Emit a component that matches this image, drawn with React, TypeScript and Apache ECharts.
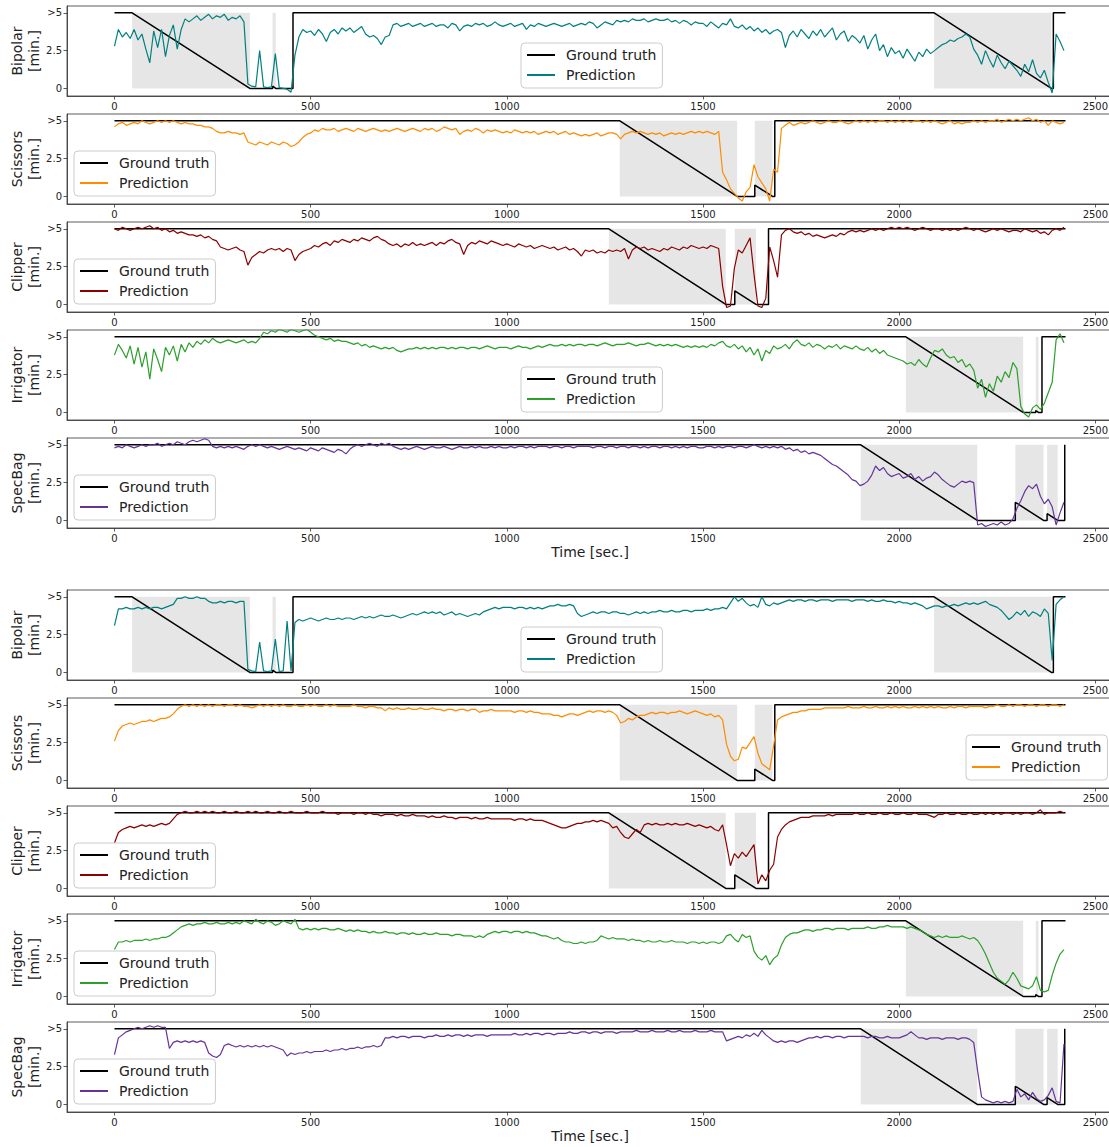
import { useEffect, useRef } from 'react';
import * as echarts from 'echarts';

const FONT = 'DejaVu Sans';
const TIME_STEP = 10;
const X_TICKS = [0, 500, 1000, 1500, 2000, 2500];
const Y_TICKS = [0, 2.5, 5];
const Y_TICK_LABELS = ['0', '2.5', '>5'];
const INSTRUMENTS = ['Bipolar', 'Scissors', 'Clipper', 'Irrigator', 'SpecBag'];
const COLORS = ['#008080', '#ff8c00', '#8b0000', '#2ca02c', '#663399'];

// Ground truth (time [sec.], remaining [min.])
const GT_BIPOLAR = [[0, 5], [45, 5], [345, 0], [403, 0], [403, 0.15], [411, 0], [455, 0], [455, 5], [2089, 5], [2388, 0], [2393, 0], [2393, 5], [2424, 5]];
const GT_SCISSORS = [[0, 5], [1288, 5], [1587, 0], [1632, 0], [1632, 0.75], [1677, 0], [1683, 0], [1683, 5], [2424, 5]];
const GT_CLIPPER = [[0, 5], [1260, 5], [1558, 0], [1581, 0], [1581, 0.9], [1635, 0], [1667, 0], [1667, 5], [2424, 5]];
const GT_IRRIGATOR = [[0, 5], [2017, 5], [2316, 0], [2348, 0], [2348, 0.12], [2355, 0], [2364, 0], [2364, 5], [2424, 5]];
const GT_SPECBAG = [[0, 5], [1902, 5], [2199, 0], [2296, 0], [2296, 1.2], [2368, 0], [2377, 0], [2377, 0.45], [2404, 0], [2422, 0], [2422, 5]];

// Shaded intervals (sec.)
const SHADE_BIPOLAR = [[45, 345], [403, 411], [2089, 2388]];
const SHADE_SCISSORS = [[1288, 1587], [1632, 1677]];
const SHADE_CLIPPER = [[1260, 1558], [1581, 1635]];
const SHADE_IRRIGATOR = [[2017, 2316], [2348, 2355]];
const SHADE_SPECBAG = [[1902, 2199], [2296, 2368], [2377, 2404]];

// Predictions, upper figure (one value every 10 s)
const PRED_A_BIPOLAR = [
  2.8, 3.9, 3.4, 3.7, 3.3, 3.9, 3.2, 3.6, 2.6, 1.7,
  3.8, 2.7, 3.9, 2.1, 3.5, 4.2, 2.6, 3.9, 4.6, 4.4,
  4.6, 4.8, 4.5, 4.7, 4.9, 4.6, 4.8, 4.7, 4.9, 4.5,
  4.7, 4.6, 4.8, 4.4, 0.3, 0.15, 0.1, 2.5, 0.1, 0.05,
  0.1, 2.3, 0.05, 0.0, -0.05, -0.25, 2.2, 3.4, 3.9, 3.7,
  3.8, 3.5, 3.9, 3.6, 3.1, 3.7, 3.9, 3.6, 4.0, 3.8,
  4.0, 3.7, 3.9, 4.1, 3.6, 3.4, 3.5, 3.3, 2.9, 3.4,
  3.5, 4.2, 4.3, 4.1, 4.2, 4.3, 4.1, 4.2, 4.3, 4.1,
  4.2, 4.3, 4.1, 4.2, 4.2, 4.0, 4.3, 4.2, 3.8, 4.1,
  4.2, 4.1, 4.3, 4.2, 4.3, 4.1, 4.2, 4.4, 4.2, 4.1,
  4.2, 4.3, 4.1, 4.2, 4.3, 3.9, 4.2, 4.1, 4.3, 4.2,
  4.1, 4.2, 4.3, 4.2, 4.1, 4.2, 4.3, 4.1, 4.2, 4.3,
  4.2, 4.4, 4.3, 4.0, 4.2, 4.4, 4.3, 4.2, 4.5, 4.4,
  4.5, 4.4, 4.6, 4.5, 4.5, 4.6, 4.4, 4.5, 4.6, 4.5,
  4.5, 4.6, 4.4, 4.5, 4.3, 4.5, 4.4, 4.2, 4.4, 4.3,
  4.3, 4.1, 4.4, 4.2, 4.0, 4.3, 4.2, 4.6, 4.1, 4.0,
  4.2, 3.9, 4.1, 3.8, 4.0, 3.7, 3.9, 3.6, 3.8, 3.9,
  3.7, 2.7, 3.5, 3.8, 3.4, 3.9, 3.6, 3.3, 3.8, 3.5,
  3.9, 3.4, 3.7, 4.0, 3.2, 3.6, 3.8, 3.1, 3.5, 3.3,
  3.0, 3.5, 2.6, 3.2, 3.6, 2.5, 2.9, 2.1, 2.7, 2.3,
  2.5, 2.0, 2.6, 2.2, 1.8, 2.4, 2.1, 2.6, 2.3, 2.5,
  2.7, 2.9, 3.0, 3.2, 3.1, 3.3, 3.4, 3.6, 3.4, 2.6,
  2.2, 1.6, 2.5, 1.9, 1.4, 2.2, 1.7, 1.3, 1.8, 1.5,
  1.2, 0.8, 1.6, 1.1, 1.9, 1.0, 0.7, 1.2, 0.4, -0.3,
  3.6, 3.1, 2.5,
];
const PRED_A_SCISSORS = [
  4.6, 4.8, 4.9, 4.7, 4.8, 4.9, 4.8, 5.0, 4.9, 4.8,
  4.9, 5.0, 4.9, 5.0, 4.9, 5.0, 4.9, 4.8, 4.9, 4.8,
  4.8, 4.7, 4.7, 4.6, 4.6, 4.5, 4.3, 4.2, 4.2, 4.3,
  4.2, 4.2, 4.1, 4.2, 3.6, 3.5, 3.4, 3.6, 3.5, 3.4,
  3.6, 3.5, 3.4, 3.6, 3.5, 3.3, 3.4, 3.6, 3.9, 4.1,
  4.2, 4.4, 4.3, 4.5, 4.4, 4.4, 4.5, 4.3, 4.4, 4.5,
  4.4, 4.3, 4.5, 4.4, 4.3, 4.4, 4.5, 4.4, 4.3, 4.4,
  4.3, 4.4, 4.5, 4.4, 4.3, 4.4, 4.5, 4.4, 4.3, 4.5,
  4.4, 4.5, 4.3, 4.4, 4.6, 4.5, 4.4, 4.5, 4.1, 4.3,
  4.4, 4.3, 4.5, 4.4, 4.2, 4.4, 4.3, 4.4, 4.3, 4.2,
  4.3, 4.2, 4.4, 4.3, 4.2, 4.3, 4.2, 4.3, 4.1, 4.2,
  4.3, 4.2, 4.3, 4.1, 4.2, 4.3, 4.1, 4.2, 4.1, 4.0,
  4.1, 4.0, 4.1, 4.2, 4.0, 4.1, 4.2, 4.2, 4.1, 3.8,
  4.1, 4.2, 4.3, 4.2, 4.3, 4.2, 4.1, 4.2, 4.1, 4.2,
  4.0, 4.1, 4.2, 4.1, 4.2, 4.1, 4.2, 4.3, 4.2, 4.3,
  4.2, 4.3, 4.2, 4.1, 4.3, 1.6, 1.1, 0.5, 0.2, -0.1,
  -0.3, 0.3, 0.6, 2.1, 1.3, 0.9, 0.5, -0.3, 1.8, 1.6,
  4.5, 4.7, 4.9, 4.7, 4.8, 4.9, 4.8, 4.9, 5.0, 4.9,
  4.8, 4.9, 5.0, 4.9, 4.9, 5.0, 4.9, 4.8, 4.9, 5.0,
  4.9, 5.0, 4.9, 5.0, 4.9, 5.0, 5.0, 4.9, 5.0, 4.9,
  5.0, 4.9, 5.0, 4.9, 5.0, 5.0, 4.9, 5.0, 4.9, 5.0,
  4.9, 4.8, 4.9, 5.0, 4.8, 4.9, 4.8, 4.9, 4.9, 5.0,
  4.9, 5.0, 4.9, 5.0, 5.0, 5.1, 4.9, 5.0, 5.1, 5.0,
  5.1, 5.0, 5.1, 5.2, 5.0, 5.1, 4.9, 5.0, 4.7, 5.0,
  4.9, 4.8, 4.9,
];
const PRED_A_CLIPPER = [
  5.0, 4.9, 5.1, 5.0, 4.9, 5.0, 5.1, 5.0, 5.1, 5.2,
  5.0, 5.1, 4.9, 5.0, 4.8, 4.9, 4.7, 4.8, 4.7, 4.6,
  4.6, 4.5, 4.6, 4.4, 4.5, 4.3, 4.2, 3.8, 3.7, 3.6,
  3.7, 3.8, 3.6, 3.5, 2.6, 3.1, 3.3, 3.5, 3.4, 3.6,
  3.7, 3.6, 3.7, 3.5, 3.7, 3.6, 2.9, 3.3, 3.5, 3.6,
  3.7, 3.9, 3.8, 4.0, 4.1, 3.9, 4.2, 4.1, 4.3, 4.2,
  4.1, 4.3, 4.2, 4.4, 4.3, 4.2, 4.4, 4.5, 4.3, 4.2,
  4.0, 3.9, 4.0, 3.8, 4.0, 3.9, 4.1, 3.9, 4.0, 3.9,
  4.0, 4.1, 3.9, 4.1, 4.0, 4.2, 4.3, 4.1, 4.0, 3.3,
  3.9, 4.1, 4.0, 4.2, 4.1, 4.0, 4.2, 4.1, 4.0, 3.9,
  4.0, 3.9, 3.8, 4.0, 3.9, 3.8, 3.9, 3.7, 3.8, 3.9,
  3.8, 3.7, 3.8, 3.6, 3.7, 3.8, 3.6, 3.7, 3.5, 3.2,
  3.6, 3.5, 3.6, 3.4, 3.5, 3.4, 3.6, 3.5, 3.6, 3.5,
  3.7, 3.0, 3.6, 3.8, 3.7, 3.8, 3.6, 3.7, 3.6, 3.5,
  3.7, 3.6, 3.8, 3.7, 3.6, 3.8, 3.7, 3.9, 3.8, 3.7,
  3.8, 3.7, 3.9, 3.8, 3.7, 1.2, -0.2, -0.1, 2.4, 3.6,
  3.4, 3.9, 4.4, 2.0, -0.1, -0.2, 0.4, 3.8, 2.9, 1.8,
  4.6, 4.9, 5.0, 4.8, 4.7, 4.8, 4.6, 4.7, 4.5, 4.6,
  4.5, 4.4, 4.5, 4.6, 4.5, 4.7, 4.6, 4.8, 4.9, 4.8,
  4.9, 4.8, 4.9, 5.0, 4.9, 5.0, 4.9, 5.0, 5.1, 5.0,
  5.1, 5.0, 5.1, 5.0, 4.9, 5.0, 5.1, 5.0, 4.9, 5.0,
  5.0, 4.9, 5.0, 4.9, 5.0, 4.9, 5.0, 5.1, 5.0, 4.9,
  5.0, 4.9, 4.8, 4.9, 5.0, 4.9, 5.0, 4.9, 4.8, 4.9,
  4.9, 4.8, 5.0, 4.9, 4.8, 4.9, 4.7, 4.8, 4.6, 4.9,
  5.0, 4.9, 5.1,
];
const PRED_A_IRRIGATOR = [
  3.8, 4.5, 4.1, 3.6, 4.4, 3.2, 4.3, 3.0, 4.0, 2.2,
  4.2, 3.5, 2.7, 4.3, 3.8, 4.4, 3.4, 4.5, 4.0, 4.6,
  4.3, 4.7, 4.5, 4.8, 4.6, 4.9, 4.7, 4.6, 4.7, 4.8,
  4.7, 4.6, 4.7, 4.8, 4.6, 4.7, 4.6, 4.9, 5.3, 5.2,
  5.4, 5.3, 5.5, 5.4, 5.3, 5.5, 5.4, 5.3, 5.4, 5.5,
  5.3, 5.1, 5.0, 4.9, 4.8, 4.9, 4.7, 4.8, 4.7, 4.7,
  4.6, 4.5, 4.6, 4.4, 4.5, 4.3, 4.4, 4.3, 4.2, 4.3,
  4.2, 4.3, 4.1, 4.0, 4.1, 4.2, 4.2, 4.3, 4.2, 4.3,
  4.2, 4.3, 4.2, 4.3, 4.3, 4.2, 4.3, 4.2, 4.3, 4.3,
  4.2, 4.3, 4.3, 4.2, 4.3, 4.4, 4.3, 4.2, 4.3, 4.3,
  4.3, 4.2, 4.3, 4.4, 4.3, 4.3, 4.2, 4.3, 4.4, 4.3,
  4.4, 4.5, 4.4, 4.4, 4.5, 4.4, 4.5, 4.4, 4.5, 4.5,
  4.4, 4.5, 4.5, 4.4, 4.5, 4.6, 4.5, 4.4, 4.5, 4.5,
  4.5, 4.6, 4.5, 4.4, 4.5, 4.5, 4.6, 4.5, 4.4, 4.5,
  4.4, 4.5, 4.4, 4.5, 4.4, 4.3, 4.4, 4.3, 4.4, 4.3,
  4.4, 4.3, 4.5, 4.4, 4.6, 4.7, 4.4, 4.3, 4.5, 4.2,
  4.4, 4.0, 4.3, 3.8, 4.2, 3.4, 4.1, 3.9, 4.4, 4.2,
  4.3, 4.5, 4.2, 4.6, 4.8, 4.5, 4.4, 4.6, 4.3, 4.5,
  4.4, 4.2, 4.4, 4.3, 4.5, 4.2, 4.4, 4.3, 4.2, 4.4,
  4.2, 4.1, 4.3, 4.0, 4.2, 3.9, 4.1, 3.8, 3.7, 3.6,
  3.5, 3.4, 3.2, 3.3, 3.1, 3.5, 3.2, 3.0, 3.6, 4.1,
  4.0, 4.2, 3.8, 3.6, 3.7, 3.3, 3.5, 3.0, 3.2, 2.8,
  1.6, 2.2, 1.0, 1.9, 1.4, 2.4, 2.0, 2.7, 2.3, 3.3,
  2.9, 0.4, -0.1, -0.3, 0.3, 0.5, 0.2, 0.6, 1.3, 2.0,
  4.8, 5.2, 4.6,
];
const PRED_A_SPECBAG = [
  4.8, 4.9, 4.8, 5.0, 4.9, 4.8, 4.9, 5.0, 4.9, 5.0,
  5.0, 5.1, 4.9, 5.0, 5.1, 5.0, 5.2, 5.1, 5.0, 5.2,
  5.3, 5.2, 5.3, 5.4, 5.3, 4.9, 4.8, 4.9, 4.8, 4.9,
  4.8, 4.9, 4.8, 4.7, 4.9, 5.0, 4.9, 5.0, 4.9, 4.8,
  4.9, 4.8, 4.7, 4.8, 4.9, 4.8, 4.7, 4.8, 4.7, 4.6,
  4.8, 4.7, 4.6, 4.8, 4.7, 4.6, 4.5, 4.7, 4.6, 4.4,
  4.7, 4.9, 5.0, 4.9, 5.0, 5.1, 5.0, 4.9, 5.1, 5.0,
  5.1, 4.9, 4.8, 4.7, 4.8, 4.7, 4.8, 4.9, 4.8, 4.7,
  4.8, 4.9, 4.8, 4.8, 4.9, 4.8, 4.7, 4.8, 4.9, 4.8,
  4.8, 4.9, 4.8, 4.9, 4.8, 4.8, 4.9, 4.8, 4.9, 4.8,
  4.8, 4.9, 4.8, 4.9, 4.9, 4.8, 4.9, 4.8, 4.9, 4.9,
  4.9, 4.8, 4.9, 4.9, 4.8, 4.9, 4.9, 4.8, 4.9, 4.9,
  4.9, 4.9, 4.8, 4.9, 4.9, 4.8, 4.9, 4.9, 4.8, 4.9,
  4.9, 4.8, 4.9, 4.9, 4.8, 4.9, 4.8, 4.9, 4.9, 4.8,
  4.9, 4.9, 4.8, 4.9, 4.8, 4.9, 4.8, 4.9, 4.9, 4.8,
  4.8, 4.9, 4.9, 4.8, 4.9, 4.8, 4.9, 4.9, 4.8, 4.9,
  4.9, 4.8, 4.9, 5.0, 4.9, 4.8, 4.9, 4.8, 4.9, 4.8,
  4.9, 4.7, 4.8, 4.6, 4.7, 4.5, 4.6, 4.4, 4.5, 4.4,
  4.3, 4.1, 3.9, 3.7, 3.6, 3.4, 3.2, 3.0, 2.7, 2.6,
  2.3, 2.4, 2.6, 3.0, 3.6, 3.3, 3.5, 3.1, 2.9, 3.0,
  3.1, 2.8, 2.9, 3.1, 2.7, 2.9, 2.6, 2.8, 2.9, 3.2,
  3.0, 2.7, 2.5, 2.3, 2.2, 2.4, 2.6, 2.5, 2.6, 2.5,
  -0.3, -0.2, -0.4, -0.3, -0.2, -0.3, -0.1, -0.3, -0.2, 0.1,
  0.8, 1.3, 1.9, 2.3, 2.1, 2.4, 1.6, 1.1, 1.4, 0.9,
  -0.3, 0.5, 1.2,
];

// Predictions, lower figure (one value every 10 s)
const PRED_B_BIPOLAR = [
  3.1, 4.2, 4.2, 4.3, 4.2, 4.2, 4.3, 4.2, 4.3, 4.2,
  4.3, 4.3, 4.2, 4.3, 4.4, 4.5, 4.9, 4.9, 5.0, 4.9,
  4.9, 5.0, 4.9, 4.9, 4.7, 4.6, 4.6, 4.7, 4.6, 4.7,
  4.7, 4.6, 4.7, 4.7, 0.2, 0.1, 0.05, 2.0, 0.1, 0.05,
  0.1, 2.2, 0.05, 0.1, 3.4, 0.1, 3.3, 3.5, 3.4, 3.5,
  3.6, 3.5, 3.4, 3.5, 3.6, 3.5, 3.5, 3.6, 3.5, 3.6,
  3.6, 3.5, 3.6, 3.7, 3.6, 3.7, 3.6, 3.7, 3.8, 3.7,
  3.7, 3.8, 3.7, 3.6, 3.7, 3.8, 3.9, 3.8, 3.9, 4.0,
  3.9, 4.0, 3.9, 4.0, 3.8, 3.9, 4.0, 3.8, 3.9, 3.8,
  3.7, 3.8, 3.9, 3.8, 4.0, 4.1, 4.2, 4.3, 4.2, 4.3,
  4.3, 4.3, 4.2, 4.3, 4.3, 4.2, 4.3, 4.2, 4.3, 4.2,
  4.3, 4.4, 4.4, 4.5, 4.4, 4.4, 4.5, 4.4, 3.9, 3.7,
  3.8, 3.9, 4.0, 3.9, 4.0, 4.0, 3.9, 4.0, 4.0, 3.9,
  3.9, 3.8, 3.9, 4.0, 3.9, 4.0, 3.9, 4.0, 4.0, 4.1,
  4.0, 4.0, 4.1, 4.0, 4.0, 4.1, 4.1, 4.0, 4.1, 4.1,
  4.1, 4.2, 4.1, 4.2, 4.2, 4.3, 4.2, 4.6, 5.0, 4.7,
  4.9, 4.6, 4.4, 4.5, 4.3, 5.0, 4.5, 4.4, 4.6, 4.5,
  4.6, 4.7, 4.8, 4.7, 4.8, 4.8, 4.7, 4.8, 4.8, 4.7,
  4.8, 4.8, 4.8, 4.7, 4.8, 4.8, 4.8, 4.8, 4.7, 4.8,
  4.8, 4.8, 4.7, 4.8, 4.7, 4.7, 4.8, 4.7, 4.7, 4.6,
  4.7, 4.6, 4.6, 4.5, 4.6, 4.5, 4.4, 4.2, 4.3, 4.4,
  4.4, 4.3, 4.4, 4.4, 4.5, 4.4, 4.5, 4.6, 4.5, 4.6,
  4.5, 4.6, 4.7, 4.5, 4.4, 4.3, 4.1, 3.8, 3.5, 3.7,
  4.0, 3.8, 4.1, 3.7, 4.0, 3.9, 3.7, 4.2, 3.9, 0.8,
  4.5, 4.8, 5.0,
];
const PRED_B_SCISSORS = [
  2.6, 3.3, 3.6, 3.7, 3.8, 3.7, 3.8, 3.9, 3.9, 4.0,
  3.9, 4.0, 4.1, 4.1, 4.2, 4.4, 4.7, 4.9, 5.0, 4.9,
  5.0, 4.9, 5.0, 4.9, 5.0, 4.9, 5.0, 5.0, 4.9, 5.0,
  5.0, 4.9, 5.0, 4.9, 4.9, 4.8, 4.9, 5.0, 4.9, 5.0,
  4.9, 5.0, 4.9, 5.0, 4.9, 4.9, 5.0, 4.9, 4.9, 5.0,
  4.9, 5.0, 4.9, 4.9, 5.0, 4.9, 5.0, 4.9, 4.9, 4.9,
  4.9, 5.0, 4.9, 4.9, 4.8, 4.9, 4.9, 4.8, 4.8, 4.6,
  4.8, 4.7, 4.8, 4.7, 4.7, 4.8, 4.7, 4.7, 4.8, 4.7,
  4.7, 4.8, 4.7, 4.7, 4.6, 4.7, 4.7, 4.6, 4.7, 4.7,
  4.6, 4.7, 4.7, 4.5, 4.6, 4.6, 4.7, 4.6, 4.6, 4.6,
  4.6, 4.6, 4.5, 4.6, 4.6, 4.5, 4.6, 4.5, 4.5, 4.4,
  4.4, 4.4, 4.3, 4.3, 4.2, 4.3, 4.4, 4.4, 4.3, 4.4,
  4.5, 4.6, 4.5, 4.6, 4.6, 4.5, 4.6, 4.5, 4.3, 3.8,
  3.9, 4.1, 4.0, 4.2, 4.3, 4.3, 4.4, 4.5, 4.4, 4.5,
  4.5, 4.4, 4.5, 4.5, 4.6, 4.5, 4.4, 4.5, 4.6, 4.5,
  4.4, 4.3, 4.4, 4.2, 4.3, 4.0, 2.4, 1.6, 1.3, 1.4,
  2.2, 2.1, 2.5, 2.9, 1.8, 1.1, 0.9, 0.7, 2.3, 4.0,
  4.2, 4.3, 4.4, 4.5, 4.5, 4.6, 4.6, 4.7, 4.7, 4.7,
  4.7, 4.8, 4.8, 4.8, 4.8, 4.8, 4.8, 4.9, 4.8, 4.8,
  4.8, 4.9, 4.8, 4.8, 4.9, 4.8, 4.8, 4.9, 4.8, 4.9,
  4.8, 4.9, 4.8, 4.8, 4.9, 4.8, 4.9, 4.8, 4.9, 4.8,
  4.9, 4.8, 4.8, 4.9, 4.8, 4.9, 4.9, 4.8, 4.9, 4.9,
  4.9, 4.9, 4.8, 4.9, 4.9, 5.0, 4.9, 4.9, 5.0, 4.9,
  5.0, 5.0, 4.9, 5.0, 5.0, 4.9, 5.0, 5.0, 4.9, 5.0,
  5.0, 4.9, 5.0,
];
const PRED_B_CLIPPER = [
  3.0, 3.7, 3.9, 4.0, 4.1, 4.0, 4.1, 4.2, 4.1, 4.2,
  4.1, 4.2, 4.3, 4.2, 4.3, 4.6, 4.9, 5.0, 5.1, 5.0,
  5.0, 5.1, 5.0, 5.1, 5.0, 5.1, 5.0, 5.0, 5.1, 5.0,
  5.0, 5.1, 5.0, 5.0, 5.1, 5.0, 5.1, 5.0, 5.0, 5.1,
  5.0, 5.0, 5.1, 5.0, 5.0, 5.1, 5.0, 5.0, 5.0, 5.1,
  5.0, 5.0, 5.0, 5.1, 5.0, 5.0, 5.0, 4.9, 5.0, 5.0,
  5.0, 4.9, 5.0, 5.0, 4.9, 5.0, 4.9, 4.9, 4.8, 4.9,
  4.9, 4.9, 4.8, 4.9, 4.8, 4.8, 4.9, 4.8, 4.8, 4.8,
  4.7, 4.8, 4.7, 4.7, 4.8, 4.7, 4.7, 4.6, 4.7, 4.7,
  4.7, 4.6, 4.7, 4.6, 4.6, 4.7, 4.6, 4.6, 4.6, 4.6,
  4.6, 4.6, 4.5, 4.6, 4.6, 4.5, 4.6, 4.5, 4.5, 4.5,
  4.4, 4.3, 4.2, 4.1, 4.0, 4.0, 4.1, 4.2, 4.3, 4.3,
  4.4, 4.4, 4.5, 4.4, 4.5, 4.4, 4.3, 4.0, 4.1, 3.7,
  3.4, 3.3, 3.6, 3.9, 3.7, 4.2, 4.3, 4.2, 4.3, 4.2,
  4.2, 4.3, 4.2, 4.3, 4.2, 4.2, 4.3, 4.2, 4.1, 4.2,
  4.1, 4.0, 4.1, 3.9, 3.8, 4.2, 2.9, 1.5, 2.3, 2.0,
  2.4, 2.1, 2.5, 2.9, 0.3, 0.9, 0.5, 1.2, 1.6, 3.4,
  3.9, 4.2, 4.4, 4.5, 4.6, 4.7, 4.7, 4.7, 4.8, 4.8,
  4.8, 4.8, 4.9, 4.8, 4.9, 4.9, 4.9, 4.9, 4.9, 5.0,
  4.9, 4.9, 5.0, 4.9, 4.9, 5.0, 4.9, 4.9, 5.0, 4.9,
  4.9, 5.0, 4.9, 4.9, 5.0, 4.9, 4.9, 4.9, 4.8, 4.7,
  4.9, 4.9, 5.0, 4.9, 4.9, 5.0, 4.9, 4.9, 5.0, 4.9,
  4.9, 5.0, 4.9, 5.0, 4.9, 5.0, 4.9, 5.0, 5.0, 4.9,
  5.0, 4.9, 5.0, 5.0, 4.9, 5.0, 5.2, 4.9, 5.0, 5.0,
  5.0, 5.1, 5.0,
];
const PRED_B_IRRIGATOR = [
  3.1, 3.6, 3.6, 3.7, 3.6, 3.7, 3.7, 3.7, 3.8, 3.7,
  3.8, 3.8, 3.9, 3.9, 4.0, 4.2, 4.4, 4.6, 4.7, 4.8,
  4.7, 4.8, 4.8, 4.9, 4.8, 4.8, 4.9, 4.8, 4.8, 4.9,
  4.8, 4.9, 4.8, 5.0, 4.9, 4.8, 5.1, 4.9, 4.8, 5.0,
  4.9, 4.7, 4.8, 5.0, 4.9, 4.8, 5.1, 4.5, 4.4, 4.5,
  4.4, 4.5, 4.4, 4.5, 4.5, 4.4, 4.4, 4.5, 4.4, 4.3,
  4.4, 4.3, 4.4, 4.3, 4.3, 4.2, 4.3, 4.2, 4.2, 4.3,
  4.2, 4.2, 4.1, 4.2, 4.2, 4.1, 4.2, 4.1, 4.1, 4.2,
  4.1, 4.1, 4.2, 4.1, 4.1, 4.1, 4.0, 4.1, 4.1, 4.0,
  4.0, 4.0, 3.9, 4.0, 3.9, 4.1, 4.2, 4.3, 4.2, 4.3,
  4.3, 4.2, 4.3, 4.3, 4.2, 4.3, 4.2, 4.2, 4.1, 4.0,
  4.0, 3.9, 3.8, 3.9, 3.7, 3.6, 3.6, 3.5, 3.5, 3.6,
  3.5, 3.6, 3.6, 3.7, 4.0, 3.9, 3.8, 3.9, 3.8, 3.8,
  3.8, 3.7, 3.8, 3.7, 3.7, 3.6, 3.7, 3.6, 3.6, 3.7,
  3.6, 3.6, 3.7, 3.6, 3.6, 3.6, 3.5, 3.6, 3.6, 3.5,
  3.6, 3.5, 3.6, 3.6, 3.5, 3.6, 4.0, 4.1, 3.8, 3.6,
  4.1, 3.9, 4.0, 3.0, 2.6, 2.4, 2.7, 2.1, 2.5, 2.7,
  3.4, 3.9, 4.1, 4.2, 4.2, 4.3, 4.4, 4.4, 4.3, 4.4,
  4.4, 4.5, 4.5, 4.4, 4.5, 4.5, 4.5, 4.4, 4.5, 4.5,
  4.5, 4.5, 4.6, 4.5, 4.5, 4.6, 4.6, 4.7, 4.6, 4.6,
  4.6, 4.6, 4.5, 4.6, 4.5, 4.4, 4.3, 4.1, 4.0, 3.9,
  4.0, 3.9, 4.0, 3.9, 3.9, 3.9, 4.0, 3.9, 3.8, 3.9,
  3.7, 3.3, 2.8, 2.2, 1.6, 1.2, 1.0, 0.8, 1.1, 1.6,
  1.2, 0.7, 0.6, 0.5, 0.7, 1.3, 0.4, 0.3, 0.4, 1.4,
  2.2, 2.8, 3.1,
];
const PRED_B_SPECBAG = [
  3.3, 4.4, 4.6, 4.8, 4.9, 5.0, 5.1, 5.0, 5.1, 5.2,
  5.1, 5.2, 5.1, 5.1, 3.7, 4.1, 4.2, 4.1, 4.2, 4.1,
  4.2, 4.1, 4.2, 4.1, 3.4, 3.2, 3.1, 3.3, 3.9, 4.0,
  3.9, 3.8, 3.9, 3.8, 3.9, 3.8, 3.9, 3.8, 3.9, 3.8,
  3.9, 3.8, 3.7, 3.6, 3.2, 3.4, 3.3, 3.4, 3.4, 3.5,
  3.4, 3.5, 3.5, 3.5, 3.6, 3.5, 3.6, 3.6, 3.7, 3.6,
  3.7, 3.7, 3.8, 3.7, 3.8, 3.8, 3.9, 3.8, 3.9, 4.4,
  4.4, 4.5, 4.4, 4.5, 4.5, 4.4, 4.5, 4.5, 4.5, 4.4,
  4.5, 4.5, 4.6, 4.5, 4.5, 4.6, 4.5, 4.6, 4.6, 4.5,
  4.6, 4.5, 4.6, 4.6, 4.6, 4.5, 4.6, 4.6, 4.6, 4.6,
  4.6, 4.6, 4.7, 4.6, 4.6, 4.7, 4.6, 4.7, 4.7, 4.6,
  4.7, 4.7, 4.6, 4.7, 4.7, 4.7, 4.8, 4.7, 4.7, 4.8,
  4.8, 4.7, 4.8, 4.8, 4.7, 4.8, 4.8, 4.8, 4.7, 4.8,
  4.8, 4.8, 4.8, 4.9, 4.8, 4.8, 4.8, 4.9, 4.8, 4.8,
  4.8, 4.9, 4.8, 4.8, 4.9, 4.8, 4.8, 4.8, 4.9, 4.8,
  4.8, 4.8, 4.9, 4.8, 4.8, 4.8, 4.2, 4.3, 4.4, 4.5,
  4.4, 4.6, 4.5, 4.7, 4.5, 4.9, 4.6, 4.4, 4.2, 4.1,
  4.2, 4.1, 4.2, 4.2, 4.1, 4.2, 4.3, 4.4, 4.4, 4.5,
  4.4, 4.5, 4.5, 4.4, 4.5, 4.5, 4.4, 4.5, 4.5, 4.5,
  4.5, 4.5, 4.4, 4.5, 4.5, 4.4, 4.4, 4.5, 4.4, 4.4,
  4.4, 4.5, 4.6, 4.8, 4.6, 4.4, 4.4, 4.3, 4.4, 4.4,
  4.4, 4.3, 4.4, 4.4, 4.4, 4.3, 4.4, 4.4, 4.3, 4.1,
  2.2, 0.5, 0.3, 0.2, 0.1, 0.2, 0.1, 0.2, 0.1, 0.2,
  1.0, 0.5, 0.7, 0.3, 0.8, 0.4, 0.2, 0.3, 0.6, 1.1,
  0.2, 0.1, 4.0,
];

const GT_LIST = [GT_BIPOLAR, GT_SCISSORS, GT_CLIPPER, GT_IRRIGATOR, GT_SPECBAG];
const SHADE_LIST = [SHADE_BIPOLAR, SHADE_SCISSORS, SHADE_CLIPPER, SHADE_IRRIGATOR, SHADE_SPECBAG];
const PRED_A = [PRED_A_BIPOLAR, PRED_A_SCISSORS, PRED_A_CLIPPER, PRED_A_IRRIGATOR, PRED_A_SPECBAG];
const PRED_B = [PRED_B_BIPOLAR, PRED_B_SCISSORS, PRED_B_CLIPPER, PRED_B_IRRIGATOR, PRED_B_SPECBAG];
const LEGEND_LOC_A = ['center', 'left', 'left', 'center', 'left'];
const LEGEND_LOC_B = ['center', 'right', 'left', 'left', 'left'];

function buildOption() {
  const grids: any[] = [];
  const xAxes: any[] = [];
  const yAxes: any[] = [];
  const series: any[] = [];
  const legends: any[] = [];
  const groupTops = [6, 590];
  const figs = [
    { preds: PRED_A, locs: LEGEND_LOC_A },
    { preds: PRED_B, locs: LEGEND_LOC_B },
  ];
  let idx = 0;
  figs.forEach((fig, g) => {
    for (let i = 0; i < 5; i++) {
      const top = groupTops[g] + i * 108;
      const height = 90;
      const color = COLORS[i];
      grids.push({
        left: 67, top, width: 1046, height,
        show: true, borderColor: '#333', borderWidth: 0.8,
        backgroundColor: 'transparent',
        containLabel: false, outerBoundsMode: 'none',
      });
      xAxes.push({
        type: 'value', gridIndex: idx, min: -121, max: 2545,
        axisLine: { show: true, onZero: false, lineStyle: { color: '#333', width: 0.8 } },
        axisTick: { show: true, customValues: X_TICKS, length: 3.5, lineStyle: { color: '#333', width: 0.8 } },
        axisLabel: {
          customValues: X_TICKS, fontSize: 10, color: '#222', margin: 5, fontFamily: FONT,
          formatter: (v: number) => String(v),
        },
        splitLine: { show: false },
        name: i === 4 ? 'Time [sec.]' : '',
        nameLocation: 'middle', nameGap: 17, nameMoveOverlap: false,
        nameTextStyle: { fontSize: 14, color: '#222', fontFamily: FONT },
      });
      yAxes.push({
        type: 'value', gridIndex: idx, min: -0.5, max: 5.45,
        axisLine: { show: true, onZero: false, lineStyle: { color: '#333', width: 0.8 } },
        axisTick: { show: true, customValues: Y_TICKS, length: 3.5, lineStyle: { color: '#333', width: 0.8 } },
        axisLabel: {
          customValues: Y_TICKS, fontSize: 10, color: '#222', margin: 5, fontFamily: FONT,
          formatter: (v: number) => {
            const k = Y_TICKS.indexOf(v);
            return k >= 0 ? Y_TICK_LABELS[k] : '';
          },
        },
        splitLine: { show: false },
        name: INSTRUMENTS[i] + '\n[min.]',
        nameLocation: 'middle', nameGap: 25, nameRotate: 90, nameMoveOverlap: false,
        nameTextStyle: { fontSize: 14, lineHeight: 16.7, color: '#222', fontFamily: FONT },
      });
      series.push({
        type: 'line', name: '_shade', xAxisIndex: idx, yAxisIndex: idx,
        data: [], silent: true, z: 1, symbol: 'none',
        markArea: {
          silent: true,
          itemStyle: { color: 'rgba(128,128,128,0.2)' },
          data: SHADE_LIST[i].map(([a, b]) => [{ xAxis: a, yAxis: 0 }, { xAxis: b, yAxis: 5 }]),
        },
      });
      series.push({
        type: 'line', name: 'Ground truth', xAxisIndex: idx, yAxisIndex: idx,
        data: GT_LIST[i], symbol: 'none', silent: true, z: 2,
        lineStyle: { color: '#000', width: 1.5 }, itemStyle: { color: '#000' },
      });
      series.push({
        type: 'line', name: 'Prediction', xAxisIndex: idx, yAxisIndex: idx,
        data: fig.preds[i].map((v, k) => [k * TIME_STEP, v]),
        symbol: 'none', silent: true, z: 3,
        lineStyle: { color, width: 1.2 }, itemStyle: { color },
      });
      const loc = fig.locs[i];
      const legendLeft = loc === 'left' ? 74 : loc === 'right' ? 966 : 521;
      legends.push({
        orient: 'vertical', left: legendLeft, top: top + 37,
        itemWidth: 28, itemHeight: 2, itemGap: 0, icon: 'rect',
        padding: [2, 6, 3, 6],
        backgroundColor: 'rgba(255,255,255,0.8)',
        borderColor: '#cccccc', borderWidth: 1, borderRadius: 4,
        selectedMode: false,
        textStyle: { fontSize: 14, lineHeight: 20, color: '#222', fontFamily: FONT, padding: [0, 0, 0, 6] },
        data: [
          { name: 'Ground truth', itemStyle: { color: '#000', borderWidth: 0 } },
          { name: 'Prediction', itemStyle: { color, borderWidth: 0 } },
        ],
      });
      idx++;
    }
  });
  return {
    animation: false,
    backgroundColor: '#ffffff',
    textStyle: { fontFamily: FONT },
    grid: grids,
    xAxis: xAxes,
    yAxis: yAxes,
    legend: legends,
    series,
  };
}

export default function App() {
  const ref = useRef<HTMLDivElement>(null);
  useEffect(() => {
    if (!ref.current) return;
    const chart = echarts.init(ref.current, undefined, { renderer: 'svg' });
    chart.setOption(buildOption() as any);
    return () => chart.dispose();
  }, []);
  return (
    <div
      ref={ref}
      style={{ position: 'absolute', left: 0, top: 0, width: 1109, height: 1147, background: '#fff' }}
    />
  );
}
